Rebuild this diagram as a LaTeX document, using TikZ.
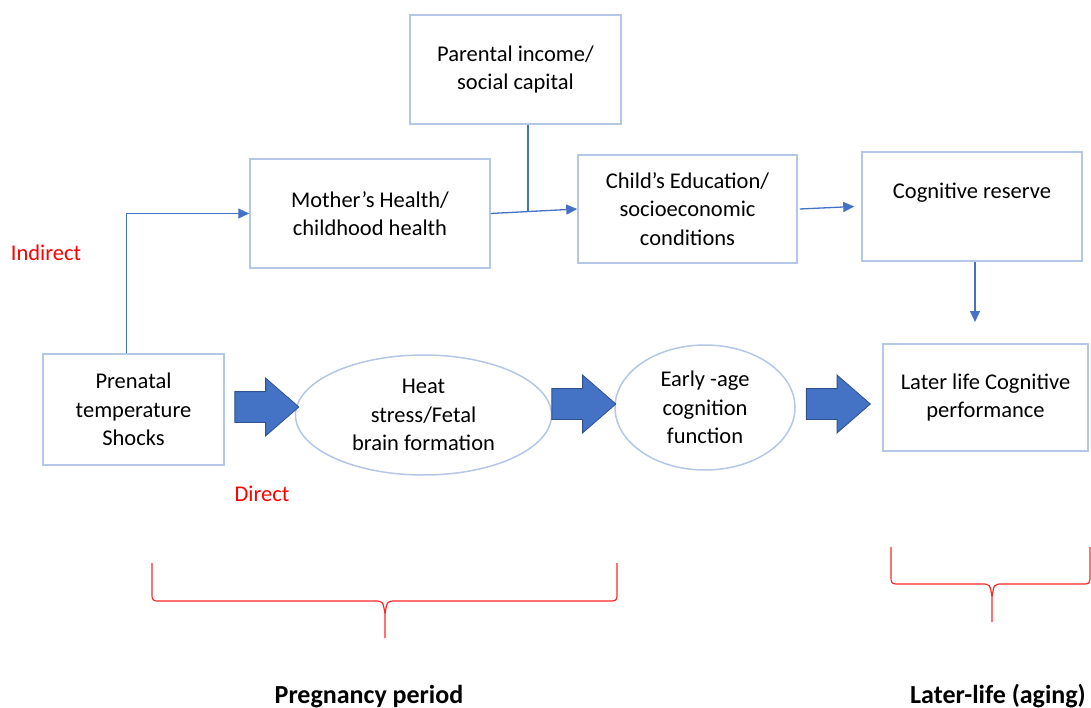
\documentclass[tikz,border=0pt]{standalone}
\usepackage{fontspec}
\setmainfont{Carlito}
\usetikzlibrary{shapes.geometric, shapes.arrows, arrows.meta, calc}

\definecolor{boxblue}{RGB}{180,199,231}
\definecolor{lineblue}{RGB}{68,114,196}
\definecolor{arrowedge}{RGB}{47,82,143}

\begin{document}
\begin{tikzpicture}[x=1pt, y=-1pt,
                    every node/.style={font=\fontsize{22.5}{28.5}\selectfont, align=center},
                    box/.style={draw=boxblue, line width=1.5pt, rectangle, inner sep=0pt},
                    oval/.style={draw=boxblue, line width=1.5pt, ellipse, inner sep=0pt},
                    bigarrow/.style={single arrow, fill=lineblue, draw=arrowedge, line width=0.8pt, minimum height=64pt, inner xsep=0pt, inner ysep=15pt, single arrow head extend=13.5pt, single arrow tip angle=82},
                    flow/.style={draw=lineblue, line width=1.3pt, -{Triangle[length=11pt,width=10pt]}},
                    note/.style={text=red},
                    period/.style={font=\fontsize{26}{30}\selectfont\bfseries},
                    brace/.style={draw=red!85, line width=1.2pt}]
                    \useasboundingbox (0,0) rectangle (1091,708);

                    \node[box, minimum width=211pt, minimum height=109pt] (parental) at (515.5, 69.5) {Parental income/\\social capital};
                    \node[box, minimum width=240pt, minimum height=109pt] (mother) at (370, 213.5) {Mother’s Health/\\childhood health};
                    \node[box, minimum width=219pt, minimum height=108pt] (child) at (687.5, 209) {Child’s Education/\\socioeconomic\\conditions};
                    \node[box, minimum width=220pt, minimum height=109pt] (cogres) at (972, 206.5) {};
                    \node (cogtext) at (972, 193) {Cognitive reserve};
                    \node[box, minimum width=181pt, minimum height=111pt] (prenatal) at (133.5, 409.5) {Prenatal\\temperature\\Shocks};
                    \node[oval, minimum width=256pt, minimum height=120pt] (heat) at (423.5, 415) {Heat\\stress/Fetal\\brain formation};
                    \node[oval, minimum width=180pt, minimum height=125pt] (early) at (705, 407.5) {Early -age\\cognition\\function};
                    \node[box, minimum width=205pt, minimum height=107pt] (later) at (985.5, 397.5) {Later life Cognitive\\performance};

                    \node[bigarrow] (arrA) at (258, 407) {};
                    \node[bigarrow] (arrB) at (575, 404) {};
                    \node[bigarrow] (arrC) at (829.5, 404) {};

                    \node[note] (indirect) at (46, 253) {Indirect};
                    \node[note] (direct) at (262, 494) {Direct};

                    \coordinate (join) at ($(mother.east)!0.43!(child.west)$);
                    \coordinate (cogend) at (975, 322);

                    \draw[flow] ([xshift=-7pt]prenatal.north) |- (mother.west);
                    \draw[flow] (mother.east) -- (child.west);
                    \draw[draw=lineblue, line width=1.3pt] (join |- parental.south) -- (join);
                    \draw[flow] ([xshift=2pt]child.east) -- ([xshift=-7pt]cogres.west);
                    \draw[flow] ([xshift=3pt]cogres.south) -- (cogend);

                    \draw[brace] (152,563) -- (152,592) .. controls (152,601) .. (161,601) -- (374,601) .. controls (383,601) .. (385,614) -- (385,638)
                                 (385,614) .. controls (387,601) .. (396,601) -- (608,601) .. controls (617,601) .. (617,592) -- (617,563);
                    \draw[brace] (891,547) -- (891,575) .. controls (891,584) .. (900,584) -- (981,584) .. controls (990,584) .. (992,597) -- (992,622)
                                 (992,597) .. controls (994,584) .. (1003,584) -- (1081,584) .. controls (1090,584) .. (1090,575) -- (1090,547);

                    \node[period, anchor=base] (pregnancy) at (369, 703) {Pregnancy period};
                    \node[period, anchor=base] (aging) at (998, 703) {Later-life (aging)};
                \end{tikzpicture}
\end{document}
